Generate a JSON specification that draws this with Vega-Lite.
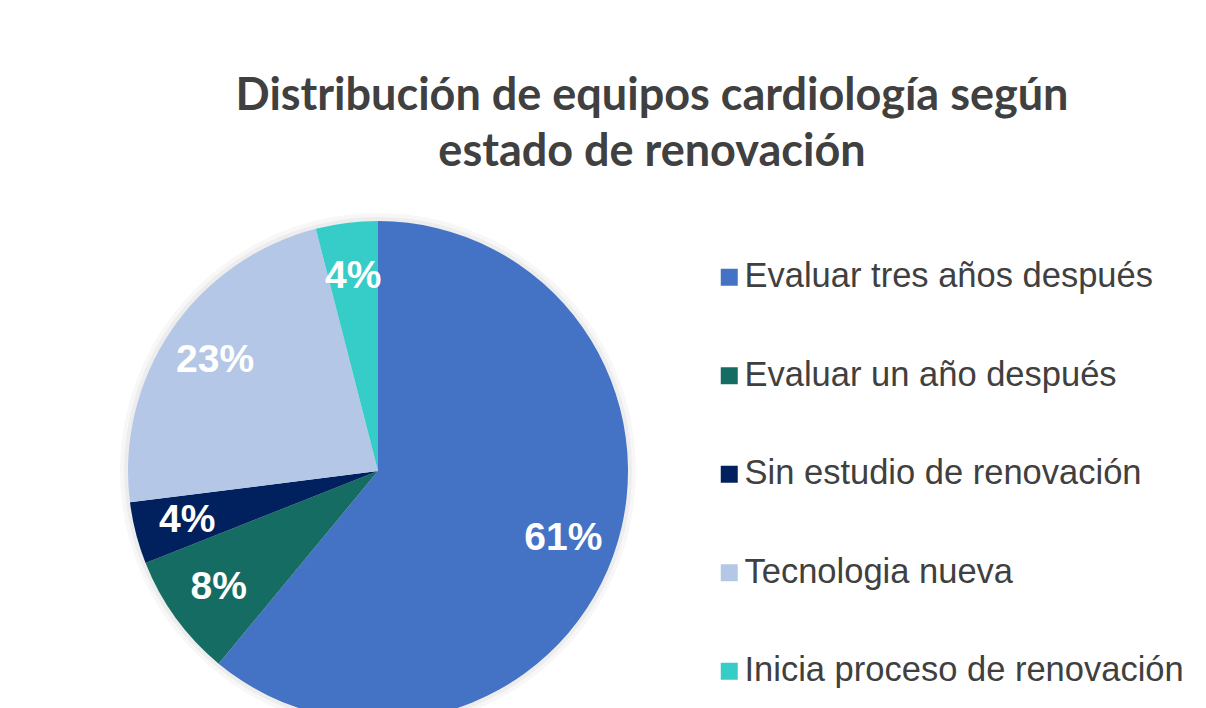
{
  "$schema": "https://vega.github.io/schema/vega-lite/v6.json",
  "width": 682,
  "height": 422,
  "autosize": {"type": "none"},
  "padding": {"left": 37, "top": 260, "right": 487, "bottom": 26},
  "background": "white",
  "config": {"view": {"stroke": null}},
  "title": {
    "text": ["Distribución de equipos cardiología según", "estado de renovación"],
    "font": "Lato",
    "fontSize": 45,
    "fontWeight": "bold",
    "color": "#404040",
    "anchor": "middle",
    "frame": "group",
    "dx": 274,
    "offset": 38,
    "lineHeight": 56
  },
  "data": {
    "values": [
      {"estado": "Evaluar tres años después", "share": 0.61, "i": 1},
      {"estado": "Evaluar un año después", "share": 0.08, "i": 2},
      {"estado": "Sin estudio de renovación", "share": 0.04, "i": 3},
      {"estado": "Tecnologia nueva", "share": 0.23, "i": 4},
      {"estado": "Inicia proceso de renovación", "share": 0.04, "i": 5}
    ]
  },
  "encoding": {
    "theta": {"field": "share", "type": "quantitative", "stack": true},
    "order": {"field": "i", "type": "quantitative"}
  },
  "layer": [
    {
      "mark": {"type": "arc", "outerRadius": 258, "color": "#000000", "opacity": 0.03}
    },
    {
      "mark": {"type": "arc", "outerRadius": 254, "color": "#000000", "opacity": 0.04}
    },
    {
      "mark": {"type": "arc", "outerRadius": 250},
      "encoding": {
        "color": {
          "field": "estado",
          "type": "nominal",
          "scale": {
            "domain": ["Evaluar tres años después", "Evaluar un año después", "Sin estudio de renovación", "Tecnologia nueva", "Inicia proceso de renovación"],
            "range": ["#4472C4", "#156C63", "#01205E", "#B4C7E7", "#36CDC8"]
          },
          "legend": {
            "title": null,
            "orient": "right",
            "offset": -7,
            "padding": 0,
            "symbolType": "square",
            "symbolSize": 289,
            "symbolStrokeWidth": 0,
            "labelFont": "Liberation Sans",
            "labelFontSize": 34.5,
            "labelColor": "#404040",
            "labelOffset": -2,
            "labelLimit": 700,
            "rowPadding": 63.5
          }
        }
      }
    },
    {
      "mark": {"type": "text", "radius": 197, "font": "Liberation Sans", "fontSize": 39, "fontWeight": "bold", "color": "white"},
      "encoding": {
        "text": {"field": "share", "type": "quantitative", "format": ".0%"}
      }
    }
  ]
}
